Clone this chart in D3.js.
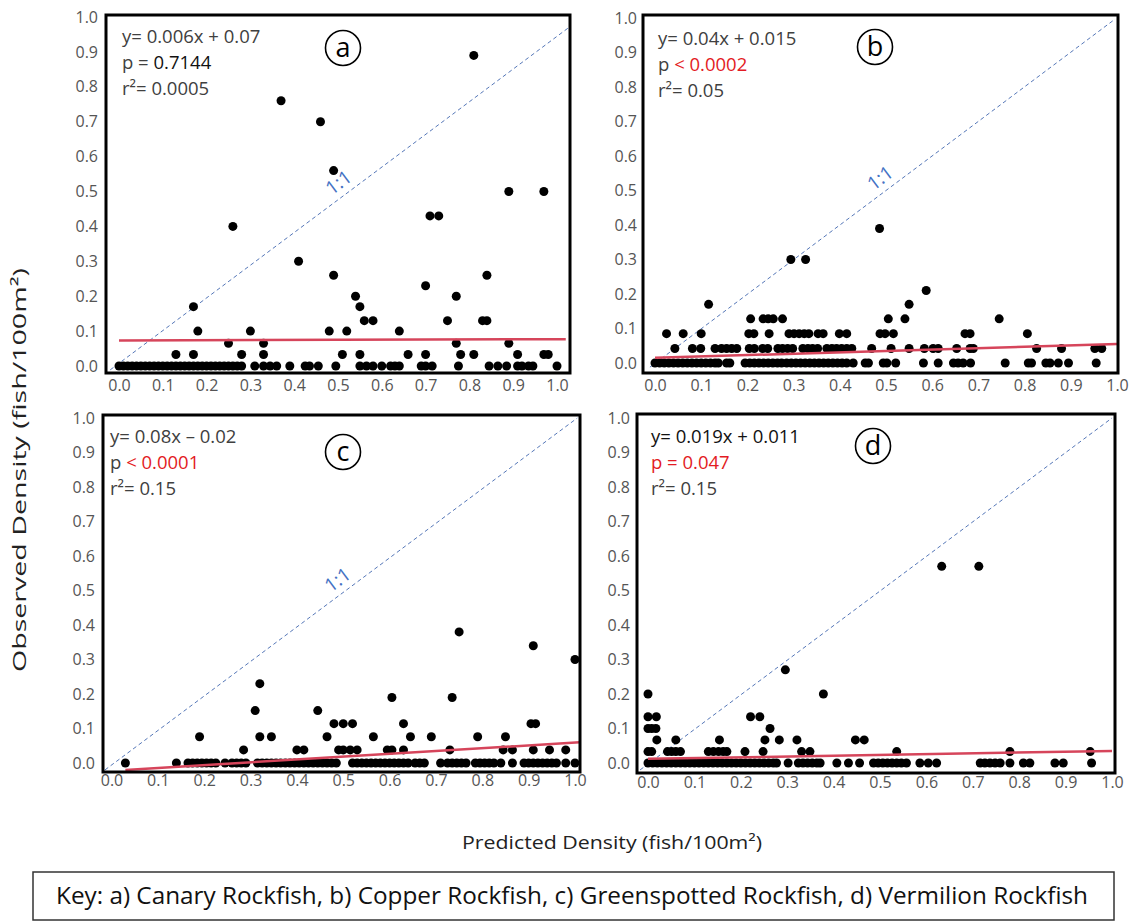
<!DOCTYPE html>
<html>
<head>
<meta charset="utf-8">
<script src="https://cdn.jsdelivr.net/npm/d3@7"></script>
<style>
  body { margin: 0; background: #fff; }
  svg  { display: block; }
</style>
</head>
<body>
<svg id="chart" width="1137" height="922"></svg>
<script>
/* ── data ─────────────────────────────────────────────────────── */
const tickLabels = ['0.0','0.1','0.2','0.3','0.4','0.5','0.6','0.7','0.8','0.9','1.0'];

// observed rows: [observed density, [predicted densities...]]
const canaryObs = [
  [0.89, [0.81]],
  [0.76, [0.37]],
  [0.70, [0.46]],
  [0.56, [0.49]],
  [0.50, [0.89, 0.97]],
  [0.43, [0.71, 0.73]],
  [0.40, [0.26]],
  [0.30, [0.41]],
  [0.26, [0.49, 0.84]],
  [0.23, [0.70]],
  [0.20, [0.54, 0.77]],
  [0.17, [0.17, 0.55]],
  [0.13, [0.56, 0.58, 0.75, 0.83, 0.84]],
  [0.10, [0.18, 0.30, 0.48, 0.52, 0.64]],
  [0.065, [0.25, 0.33, 0.77, 0.89]],
  [0.033, [0.13, 0.17, 0.28, 0.33, 0.51, 0.55, 0.66, 0.70, 0.78, 0.81, 0.91, 0.97, 0.98]],
  [0, [0, 0.01, 0.02, 0.03, 0.04, 0.05, 0.06, 0.07, 0.08, 0.09, 0.10, 0.11, 0.12, 0.13, 0.14,
       0.15, 0.16, 0.17, 0.18, 0.19, 0.20, 0.21, 0.22, 0.23, 0.24, 0.25, 0.26, 0.27, 0.28,
       0.31, 0.33, 0.345, 0.36, 0.39, 0.425, 0.435, 0.455, 0.495, 0.55, 0.565, 0.58, 0.60,
       0.62, 0.63, 0.64, 0.69, 0.70, 0.715, 0.775, 0.845, 0.865, 0.885, 0.91, 0.92, 0.935,
       0.945, 1.0]]
];

const copperObs = [
  [0.39, [0.486]],
  [0.30, [0.294, 0.326]],
  [0.21, [0.587]],
  [0.17, [0.116, 0.55]],
  [0.128, [0.207, 0.234, 0.245, 0.256, 0.276, 0.505, 0.541, 0.745]],
  [0.085, [0.025, 0.061, 0.100, 0.203, 0.214, 0.247, 0.290, 0.301, 0.312, 0.323, 0.333, 0.353,
           0.364, 0.399, 0.415, 0.487, 0.498, 0.516, 0.671, 0.682, 0.806]],
  [0.042, [0.043, 0.081, 0.099, 0.130, 0.144, 0.155, 0.166, 0.177, 0.204, 0.215, 0.233, 0.244,
           0.266, 0.276, 0.287, 0.298, 0.320, 0.331, 0.341, 0.352, 0.372, 0.383, 0.393, 0.404,
           0.415, 0.426, 0.469, 0.511, 0.550, 0.583, 0.602, 0.613, 0.653, 0.682, 0.689, 0.826,
           0.880, 0.952, 0.967]],
  [0, [0, 0.01, 0.02, 0.03, 0.04, 0.05, 0.06, 0.07, 0.08, 0.09, 0.10, 0.11, 0.12, 0.13, 0.137,
       0.155, 0.162, 0.195, 0.205, 0.215, 0.225, 0.235, 0.245, 0.255, 0.265, 0.274, 0.285, 0.295,
       0.305, 0.315, 0.325, 0.335, 0.345, 0.355, 0.365, 0.375, 0.385, 0.395, 0.405, 0.415, 0.429,
       0.455, 0.462, 0.494, 0.502, 0.521, 0.581, 0.613, 0.646, 0.656, 0.667, 0.683, 0.758, 0.808,
       0.815, 0.846, 0.855, 0.873, 0.895, 0.955]]
];

const greenspottedObs = [
  [0.38, [0.75]],
  [0.34, [0.91]],
  [0.30, [1.0]],
  [0.23, [0.32]],
  [0.19, [0.605, 0.735]],
  [0.152, [0.31, 0.445]],
  [0.114, [0.48, 0.50, 0.52, 0.63, 0.905, 0.915]],
  [0.076, [0.19, 0.32, 0.345, 0.465, 0.565, 0.645, 0.69, 0.79, 0.85]],
  [0.038, [0.285, 0.40, 0.415, 0.49, 0.50, 0.515, 0.53, 0.595, 0.605, 0.63, 0.73, 0.845, 0.865,
           0.91, 0.945, 0.98]],
  [0, [0.03, 0.14, 0.165, 0.175, 0.185, 0.195, 0.205, 0.215, 0.225, 0.245, 0.26, 0.27, 0.28, 0.29,
       0.315, 0.325, 0.335, 0.345, 0.355, 0.365, 0.375, 0.385, 0.395, 0.405, 0.415, 0.425, 0.435,
       0.445, 0.455, 0.465, 0.475, 0.485, 0.52, 0.53, 0.54, 0.55, 0.56, 0.57, 0.58, 0.59, 0.60,
       0.61, 0.62, 0.63, 0.64, 0.655, 0.665, 0.675, 0.71, 0.725, 0.735, 0.745, 0.755, 0.765, 0.785,
       0.795, 0.805, 0.815, 0.825, 0.84, 0.865, 0.89, 0.90, 0.91, 0.92, 0.93, 0.94, 0.95, 0.96,
       0.98, 1.0]]
];

const vermilionObs = [
  [0.57, [0.633, 0.713]],
  [0.27, [0.296]],
  [0.20, [0.0, 0.378]],
  [0.134, [0.0, 0.018, 0.221, 0.241]],
  [0.10, [0.0, 0.008, 0.017, 0.263]],
  [0.067, [0.019, 0.06, 0.154, 0.252, 0.283, 0.321, 0.447, 0.466]],
  [0.033, [0.0, 0.008, 0.042, 0.051, 0.06, 0.07, 0.13, 0.141, 0.152, 0.162, 0.17, 0.209, 0.248,
           0.331, 0.349, 0.536, 0.78, 0.953]],
  [0, [0, 0.01, 0.02, 0.03, 0.04, 0.05, 0.06, 0.07, 0.08, 0.09, 0.10, 0.11, 0.12, 0.13, 0.14,
       0.15, 0.16, 0.17, 0.18, 0.19, 0.20, 0.21, 0.22, 0.23, 0.24, 0.25, 0.26, 0.27, 0.277,
       0.302, 0.324, 0.334, 0.344, 0.354, 0.364, 0.371, 0.407, 0.432, 0.456, 0.486, 0.496, 0.506,
       0.516, 0.526, 0.536, 0.546, 0.557, 0.586, 0.604, 0.622, 0.716, 0.726, 0.737, 0.748, 0.759,
       0.78, 0.809, 0.823, 0.877, 0.895, 0.956]]
];

// fitted regression lines, as drawn: [[x0, y0], [x1, y1]]
const canaryTrend       = [[0, 0.073], [1.02, 0.077]];
const copperTrend       = [[0, 0.015], [1.0, 0.055]];
const greenspottedTrend = [[0.03, -0.02], [1.01, 0.06]];
const vermilionTrend    = [[0, 0.012], [1.0, 0.035]];

// 1:1 reference lines, as drawn
const canaryRef       = [[-0.02, -0.011], [1.025, 0.968]];
const copperRef       = [[-0.011, -0.012], [0.996, 0.997]];
const greenspottedRef = [[-0.014, -0.02], [1.005, 1.0]];
const vermilionRef    = [[-0.017, -0.02], [1.0, 1.0]];

const canaryStats       = { eq: 'y= 0.006x + 0.07',  pLabel: 'p = ', p: '0.7144',   r2: 'r²= 0.0005' };
const copperStats       = { eq: 'y= 0.04x + 0.015',  pLabel: 'p ',   p: '< 0.0002', r2: 'r²= 0.05' };
const greenspottedStats = { eq: 'y= 0.08x – 0.02',   pLabel: 'p ',   p: '< 0.0001', r2: 'r²= 0.15' };
const vermilionStats    = { eq: 'y= 0.019x + 0.011', pLabel: 'p = ', p: '0.047',    r2: 'r²= 0.15' };

const panelLetters = ['a', 'b', 'c', 'd'];
const xTitle   = 'Predicted Density (fish/100m²)';
const yTitle   = 'Observed Density (fish/100m²)';
const keyText  = 'Key: a) Canary Rockfish, b) Copper Rockfish, c) Greenspotted Rockfish, d) Vermilion Rockfish';

/* ── layout / style ──────────────────────────────────────────── */
const FONT  = "'Open Sans', 'Segoe UI', sans-serif";
const GRAY  = '#404040';
const RED   = '#e31b23';
const BLACK = '#111';

const panels = [
  { obs: canaryObs, trend: canaryTrend, ref: canaryRef, refLabelX: 0.52, stats: canaryStats,
    frame: [106, 15, 570, 373], xr: [119, 557], yr: [366, 17], xPad: 7, yPad: 8,
    text: [122, 43], circle: [343, 48], colors: [GRAY, GRAY, BLACK] },
  { obs: copperObs, trend: copperTrend, ref: copperRef, refLabelX: 0.505, stats: copperStats,
    frame: [643, 15, 1118, 373], xr: [655, 1117], yr: [363, 18], xPad: 7, yPad: 6,
    text: [658, 45], circle: [875, 47], colors: [GRAY, GRAY, RED] },
  { obs: greenspottedObs, trend: greenspottedTrend, ref: greenspottedRef, refLabelX: 0.505, stats: greenspottedStats,
    frame: [103, 415, 580, 772], xr: [111.5, 575], yr: [763, 418], xPad: 3, yPad: 8,
    text: [110, 443], circle: [343, 452], colors: [GRAY, GRAY, RED] },
  { obs: vermilionObs, trend: vermilionTrend, ref: vermilionRef, refLabelX: null, stats: vermilionStats,
    frame: [637, 414, 1115, 773], xr: [648, 1112], yr: [763, 418], xPad: 4, yPad: 7,
    text: [651, 443], circle: [873, 446], colors: [BLACK, RED, RED] }
];

const svg = d3.select('#chart');
const tickVals = tickLabels.map(Number);

panels.forEach((p, i) => {
  const x = d3.scaleLinear().domain([0, 1]).range(p.xr);
  const y = d3.scaleLinear().domain([0, 1]).range(p.yr);
  const [fx0, fy0, fx1, fy1] = p.frame;
  const g = svg.append('g');

  const clipId = 'clip' + i;
  svg.append('clipPath').attr('id', clipId)
     .append('rect').attr('x', fx0).attr('y', fy0)
     .attr('width', fx1 - fx0).attr('height', fy1 - fy0);

  /* 1:1 line ---------------------------------------------------- */
  const [r0, r1] = p.ref;
  g.append('line')
    .attr('x1', x(r0[0])).attr('y1', y(r0[1]))
    .attr('x2', x(r1[0])).attr('y2', y(r1[1]))
    .attr('stroke', '#5577b8').attr('stroke-width', 1)
    .attr('stroke-dasharray', '4,3');

  if (p.refLabelX != null) {
    const t  = (p.refLabelX - r0[0]) / (r1[0] - r0[0]);
    const lx = x(r0[0]) + t * (x(r1[0]) - x(r0[0]));
    const ly = y(r0[1]) + t * (y(r1[1]) - y(r0[1]));
    const ang = Math.atan2(y(r1[1]) - y(r0[1]), x(r1[0]) - x(r0[0])) * 180 / Math.PI;
    g.append('text')
      .attr('transform', `translate(${lx},${ly}) rotate(${ang})`)
      .attr('dy', -7)
      .attr('text-anchor', 'middle')
      .attr('font-family', FONT).attr('font-size', 19)
      .attr('fill', '#4472c4')
      .text('1:1');
  }

  /* dots -------------------------------------------------------- */
  const pts = p.obs.flatMap(([yv, xs]) => xs.map(xv => ({ x: xv, y: yv })));
  g.append('g').attr('clip-path', `url(#${clipId})`)
    .selectAll('circle')
    .data(pts)
    .join('circle')
      .attr('cx', d => x(d.x))
      .attr('cy', d => y(d.y))
      .attr('r', 4.5)
      .attr('fill', '#000');

  /* regression line -------------------------------------------- */
  g.append('line')
    .attr('clip-path', `url(#${clipId})`)
    .attr('x1', x(p.trend[0][0])).attr('y1', y(p.trend[0][1]))
    .attr('x2', x(p.trend[1][0])).attr('y2', y(p.trend[1][1]))
    .attr('stroke', '#d6455b').attr('stroke-width', 2.5);

  /* frame ------------------------------------------------------- */
  g.append('rect')
    .attr('x', fx0).attr('y', fy0)
    .attr('width', fx1 - fx0).attr('height', fy1 - fy0)
    .attr('fill', 'none').attr('stroke', '#000').attr('stroke-width', 3);

  /* stats text -------------------------------------------------- */
  const [tx, ty] = p.text;
  const st = g.append('text')
    .attr('font-family', FONT).attr('font-size', 18.5);
  st.append('tspan').attr('x', tx).attr('y', ty).attr('fill', p.colors[0]).text(p.stats.eq);
  st.append('tspan').attr('x', tx).attr('y', ty + 26).attr('fill', p.colors[1]).text(p.stats.pLabel);
  st.append('tspan').attr('fill', p.colors[2]).text(p.stats.p);
  st.append('tspan').attr('x', tx).attr('y', ty + 52).attr('fill', GRAY).text(p.stats.r2);

  /* circled letter --------------------------------------------- */
  const [cx, cy] = p.circle;
  g.append('circle').attr('cx', cx).attr('cy', cy).attr('r', 17.5)
    .attr('fill', '#fff').attr('stroke', '#000').attr('stroke-width', 1.6);
  g.append('text').attr('x', cx).attr('y', cy)
    .attr('text-anchor', 'middle').attr('dominant-baseline', 'central')
    .attr('dy', -2)
    .attr('font-family', FONT).attr('font-size', 27).attr('fill', '#000')
    .text(panelLetters[i]);

  /* axes -------------------------------------------------------- */
  g.append('g')
    .attr('transform', `translate(0,${fy1})`)
    .call(d3.axisBottom(x).tickValues(tickVals)
            .tickFormat((d, k) => tickLabels[k])
            .tickSize(0).tickPadding(p.xPad))
    .call(a => a.select('.domain').remove())
    .attr('font-family', FONT).attr('font-size', 16)
    .style('color', '#555');

  g.append('g')
    .attr('transform', `translate(${fx0},0)`)
    .call(d3.axisLeft(y).tickValues(tickVals)
            .tickFormat((d, k) => tickLabels[k])
            .tickSize(0).tickPadding(p.yPad))
    .call(a => a.select('.domain').remove())
    .attr('font-family', FONT).attr('font-size', 16)
    .style('color', '#555');
});

/* ── axis titles and key ─────────────────────────────────────── */
svg.append('text')
  .attr('x', 612).attr('y', 849)
  .attr('text-anchor', 'middle')
  .attr('font-family', FONT).attr('font-size', 18).attr('fill', '#222')
  .attr('textLength', 300).attr('lengthAdjust', 'spacingAndGlyphs')
  .text(xTitle);

svg.append('text')
  .attr('transform', 'translate(26,470) rotate(-90)')
  .attr('text-anchor', 'middle')
  .attr('font-family', FONT).attr('font-size', 19).attr('fill', '#222')
  .attr('textLength', 404).attr('lengthAdjust', 'spacingAndGlyphs')
  .text(yTitle);

svg.append('rect')
  .attr('x', 33).attr('y', 872).attr('width', 1081).attr('height', 48)
  .attr('fill', 'none').attr('stroke', '#333').attr('stroke-width', 1.5);

svg.append('text')
  .attr('x', 572).attr('y', 904)
  .attr('text-anchor', 'middle')
  .attr('font-family', FONT).attr('font-size', 23).attr('fill', '#111')
  .attr('textLength', 1032).attr('lengthAdjust', 'spacingAndGlyphs')
  .text(keyText);
</script>
</body>
</html>
